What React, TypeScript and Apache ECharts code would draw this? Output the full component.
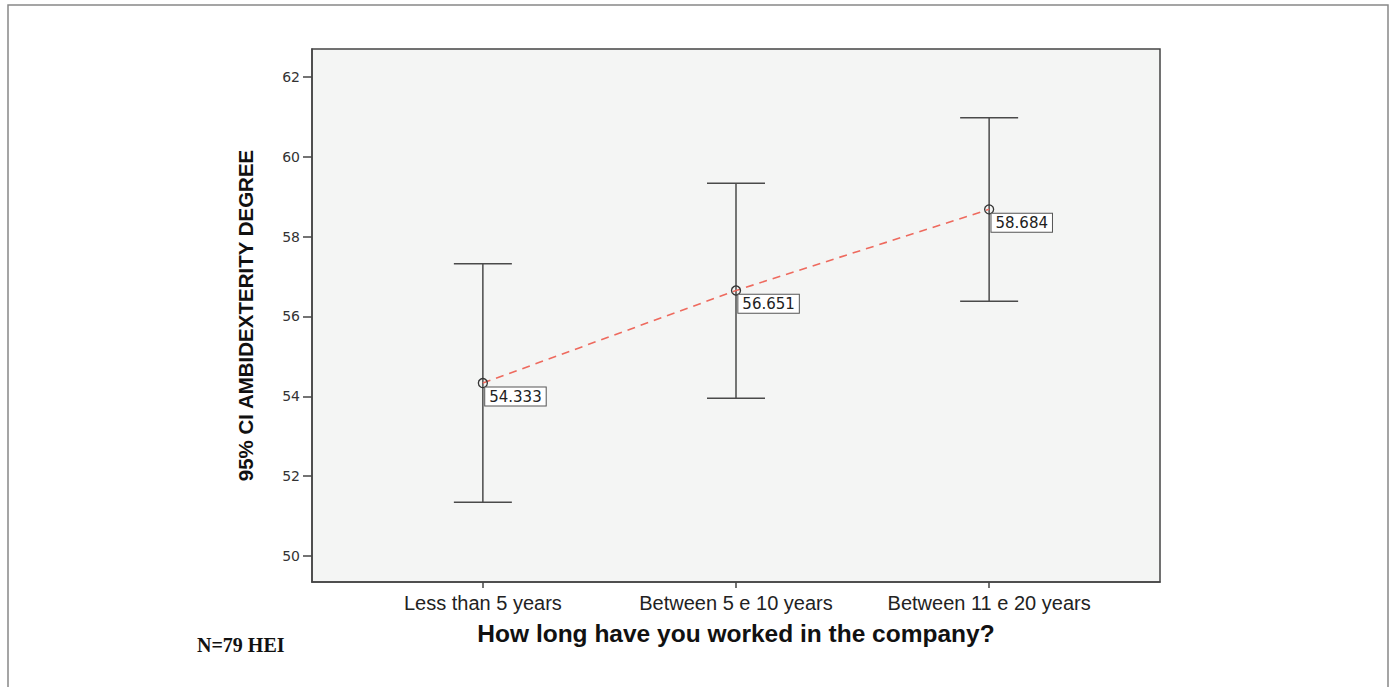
import React, { useEffect, useRef } from "react";
import * as echarts from "echarts";

const categories = ["Less than 5 years", "Between 5 e 10 years", "Between 11 e 20 years"];
const means = [54.333, 56.651, 58.684];
const ciLower = [51.35, 53.95, 56.38];
const ciUpper = [57.32, 59.34, 60.98];
const yTicks = [50, 52, 54, 56, 58, 60, 62];
const xPositions = [0, 1, 2];

export default function App() {
  const ref = useRef<HTMLDivElement>(null);
  useEffect(() => {
    if (!ref.current) return;
    const chart = echarts.init(ref.current, null, { renderer: "svg" });
    const errData = xPositions.map((x, i) => [x, ciLower[i], ciUpper[i]]);
    const meanData = xPositions.map((x, i) => [x, means[i]]);
    chart.setOption({
      animation: false,
      backgroundColor: "#ffffff",
      grid: {
        left: 312,
        top: 49,
        right: 234,
        bottom: 105,
        show: true,
        backgroundColor: "#f4f5f4",
        borderColor: "#444",
        borderWidth: 1.5,
      },
      xAxis: {
        type: "value",
        min: -0.675,
        max: 2.675,
        name: "How long have you worked in the company?",
        nameLocation: "middle",
        nameGap: 39,
        nameTextStyle: {
          fontFamily: "Liberation Sans, Arial, sans-serif",
          fontWeight: "bold",
          fontSize: 24.5,
          color: "#111",
        },
        splitLine: { show: false },
        axisLine: { show: true, onZero: false, lineStyle: { color: "#444", width: 1.5 } },
        axisTick: {
          show: true,
          customValues: xPositions,
          length: 6,
          lineStyle: { color: "#444", width: 1.5 },
        },
        axisLabel: {
          customValues: xPositions,
          formatter: (v: number) => categories[Math.round(v)] ?? "",
          fontFamily: "Liberation Sans, Arial, sans-serif",
          fontSize: 20,
          color: "#222",
          margin: 11,
        },
      },
      yAxis: {
        type: "value",
        min: 49.35,
        max: 62.7,
        name: "95% CI AMBIDEXTERITY DEGREE",
        nameLocation: "middle",
        nameGap: 56,
        nameRotate: 90,
        nameTextStyle: {
          fontFamily: "Liberation Sans, Arial, sans-serif",
          fontWeight: "bold",
          fontSize: 20.5,
          color: "#111",
        },
        splitLine: { show: false },
        axisLine: { show: true, onZero: false, lineStyle: { color: "#444", width: 1.5 } },
        axisTick: {
          show: true,
          customValues: yTicks,
          length: 9,
          lineStyle: { color: "#444", width: 1.5 },
        },
        axisLabel: {
          customValues: yTicks,
          fontFamily: "DejaVu Sans, sans-serif",
          fontSize: 14,
          color: "#333",
          margin: 12,
        },
      },
      graphic: [
        {
          type: "rect",
          shape: { x: 8, y: 5, width: 1380, height: 720 },
          style: { fill: "none", stroke: "#888", lineWidth: 1.5 },
          silent: true,
          z: -10,
        },
        {
          type: "text",
          x: 197,
          y: 645,
          style: {
            text: "N=79 HEI",
            font: "bold 20px 'Liberation Serif', 'Times New Roman', serif",
            fill: "#111",
            verticalAlign: "middle",
            align: "left",
          },
        },
      ],
      series: [
        {
          type: "custom",
          data: errData,
          z: 2,
          renderItem: (params: any, api: any) => {
            const x = api.value(0);
            const lo = api.coord([x, api.value(1)]);
            const hi = api.coord([x, api.value(2)]);
            const half = 29;
            const style = { stroke: "#4a4a4a", lineWidth: 1.5 };
            return {
              type: "group",
              children: [
                { type: "line", shape: { x1: lo[0], y1: lo[1], x2: hi[0], y2: hi[1] }, style },
                { type: "line", shape: { x1: hi[0] - half, y1: hi[1], x2: hi[0] + half, y2: hi[1] }, style },
                { type: "line", shape: { x1: lo[0] - half, y1: lo[1], x2: lo[0] + half, y2: lo[1] }, style },
              ],
            };
          },
        },
        {
          type: "line",
          data: meanData,
          z: 3,
          symbol: "circle",
          symbolSize: 9,
          lineStyle: { color: "#ee6a5e", width: 1.6, type: [8, 6] },
          itemStyle: { color: "rgba(0,0,0,0)", borderColor: "#333", borderWidth: 1.3 },
          label: {
            show: true,
            position: [7.5, 9.5],
            align: "left",
            verticalAlign: "top",
            formatter: (p: any) => p.value[1].toFixed(3),
            fontFamily: "DejaVu Sans, sans-serif",
            fontSize: 15,
            color: "#222",
            backgroundColor: "#ffffff",
            borderColor: "#555",
            borderWidth: 1,
            padding: [2, 4, 1, 4],
          },
        },
      ],
    });
    return () => chart.dispose();
  }, []);
  return (
    <div
      ref={ref}
      style={{ position: "fixed", left: 0, top: 0, width: 1394, height: 687 }}
    />
  );
}
